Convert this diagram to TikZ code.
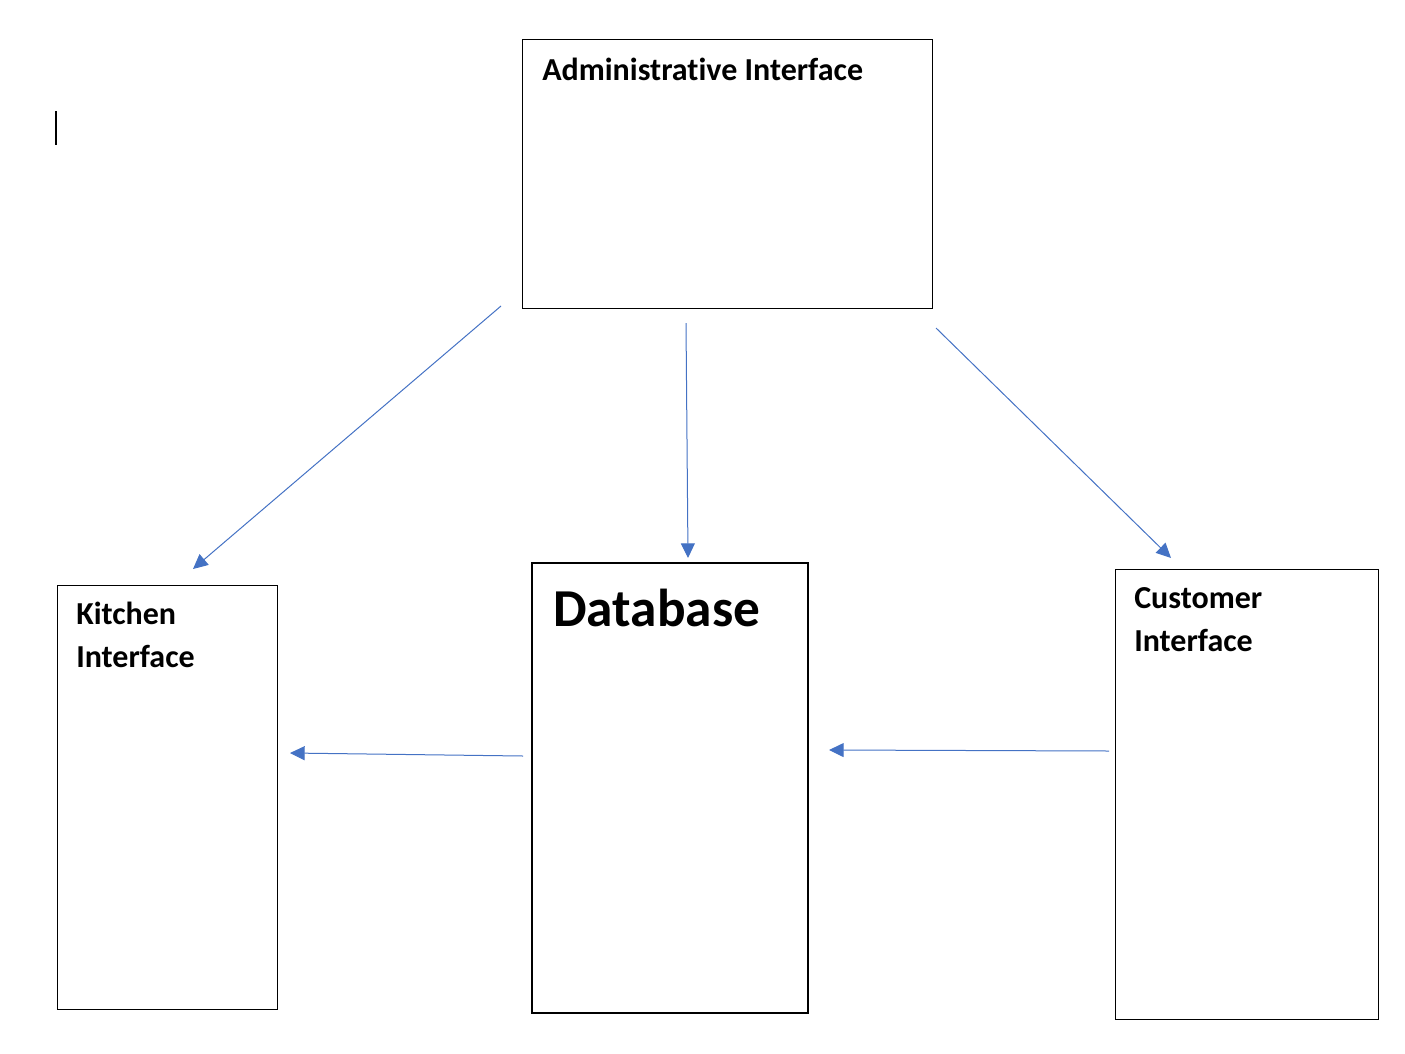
\documentclass[tikz,border=0pt]{standalone}
\usepackage{fontspec}
\setmainfont[Ligatures=NoCommon]{Carlito}
\usetikzlibrary{arrows.meta}
\definecolor{arrowblue}{HTML}{4472C4}
\tikzset{
  box/.style={draw=black, line width=0.75pt},
  dbbox/.style={draw=black, line width=1.5pt},
  flow/.style={draw=arrowblue, line width=0.75pt, -{Triangle[length=11pt,width=10.5pt]}},
  lbl/.style={anchor=base west, inner sep=0pt, font=\bfseries\fontsize{24}{32.25}\selectfont, align=left},
}
\begin{document}
\begin{tikzpicture}[x=0.75pt, y=-0.75pt]
\useasboundingbox (0,0) rectangle (1405,1053);
% boxes
\draw[box] (522,39) rectangle (932,308);
\draw[box] (57,585) rectangle (277,1009);
\draw[dbbox] (532,563) rectangle (808,1013);
\draw[box] (1115,569) rectangle (1378,1019);
% texts
\node[lbl] (admin) at (542,80) {Administrative Interface};
\node[lbl] (kitchen) at (76,667) {Kitchen\\Interface};
\node[lbl] (customer) at (1134,651) {Customer\\Interface};
\node[anchor=base west, inner sep=0pt, font=\bfseries\fontsize{40}{46}\selectfont] (db) at (553,626) {Database};
% cursor
\draw[black, line width=0.9pt] (56,111) -- (56,145);
% arrow endpoints
\coordinate (a1s) at (501,306); \coordinate (a1e) at (193,569);
\coordinate (a2s) at (686,323); \coordinate (a2e) at (688,558);
\coordinate (a3s) at (936,328); \coordinate (a3e) at (1171,558);
\coordinate (a4s) at (523,756); \coordinate (a4e) at (290,753);
\coordinate (a5s) at (1109,751); \coordinate (a5e) at (829,750);
\draw[flow] (a1s) -- (a1e);
\draw[flow] (a2s) -- (a2e);
\draw[flow] (a3s) -- (a3e);
\draw[flow] (a4s) -- (a4e);
\draw[flow] (a5s) -- (a5e);
\end{tikzpicture}
\end{document}
